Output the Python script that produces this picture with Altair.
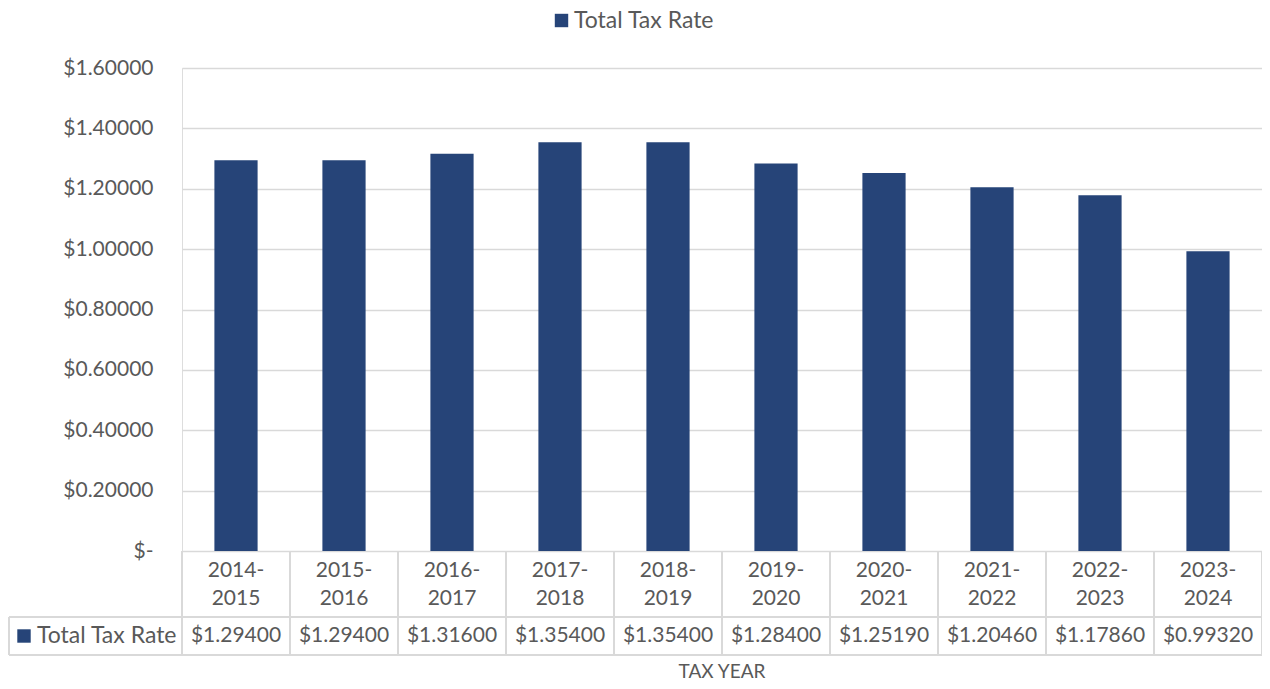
import altair as alt
import pandas as pd

years = ["2014-2015", "2015-2016", "2016-2017", "2017-2018", "2018-2019",
         "2019-2020", "2020-2021", "2021-2022", "2022-2023", "2023-2024"]
rates = [1.29400, 1.29400, 1.31600, 1.35400, 1.35400,
         1.28400, 1.25190, 1.20460, 1.17860, 0.99320]
series_name = "Total Tax Rate"
axis_title = "TAX YEAR"
y_ticks = [0.0, 0.2, 0.4, 0.6, 0.8, 1.0, 1.2, 1.4, 1.6]

df = pd.DataFrame({"year": years, "rate": rates, "series": series_name})

FONT = "Lato"
TXT = "#595959"
GRID = "#d9d9d9"
BAR = "#264478"
FS = 21

W, H = 1080, 483        # plot area (bars region)
HEAD_Y = 503            # centre of first header line
ROW1 = 549              # y of line between header row and value row
ROW2 = 587              # bottom of table
VAL_Y = 568             # centre of value row
LEFT = -173             # left edge of table

x_enc = alt.X("year:N", sort=years, axis=None,
              scale=alt.Scale(paddingInner=0, paddingOuter=0))

bars = alt.Chart(df).mark_bar(width={"band": 0.4}).encode(
    x=x_enc,
    y=alt.Y("rate:Q", scale=alt.Scale(domain=[0, 1.6], nice=False),
            axis=alt.Axis(title=None, values=y_ticks, ticks=False, domain=False,
                          gridColor=GRID, gridWidth=1.6, labelFontSize=FS,
                          labelColor=TXT, labelFont=FONT, labelPadding=29,
                          labelExpr="datum.value == 0 ? '$-\u2003' : '$' + format(datum.value, '.5f')")),
    color=alt.Color("series:N",
                    scale=alt.Scale(domain=[series_name], range=[BAR]),
                    legend=alt.Legend(orient="none", legendX=368, legendY=-59, title=None,
                                      symbolType="square", symbolSize=180,
                                      symbolStrokeWidth=0, labelFontSize=23,
                                      labelColor=TXT, labelFont=FONT, padding=0,
                                      labelOffset=1, labelLimit=0)),
)

header_text = alt.Chart(df).transform_calculate(
    lbl="slice(datum.year, 0, 5) + '\\n' + slice(datum.year, 5)"
).mark_text(baseline="middle", fontSize=FS, color=TXT, font=FONT,
            lineBreak="\n", lineHeight=28).encode(
    x=alt.X("year:N", sort=years, axis=None),
    y=alt.value(HEAD_Y),
    text="lbl:N",
)

values_text = alt.Chart(df).mark_text(baseline="middle", fontSize=FS, color=TXT,
                                       font=FONT).encode(
    x=alt.X("year:N", sort=years, axis=None),
    y=alt.value(VAL_Y),
    text=alt.Text("rate:Q", format="$.5f"),
)

vlines = alt.Chart(df).mark_rule(color=GRID, strokeWidth=2).encode(
    x=alt.X("year:N", sort=years, bandPosition=0, axis=None),
    y=alt.value(H), y2=alt.value(ROW2),
)
vlast = alt.Chart(df.tail(1)).mark_rule(color=GRID, strokeWidth=2).encode(
    x=alt.X("year:N", sort=years, bandPosition=1, axis=None),
    y=alt.value(H), y2=alt.value(ROW2),
)

one = df.head(1).assign(title=axis_title)
hline1 = alt.Chart(one).mark_rule(color=GRID, strokeWidth=2).encode(
    x=alt.value(LEFT), x2=alt.value(W), y=alt.value(ROW1))
hline2 = alt.Chart(one).mark_rule(color=GRID, strokeWidth=2).encode(
    x=alt.value(LEFT), x2=alt.value(W), y=alt.value(ROW2))
vleft = alt.Chart(one).mark_rule(color=GRID, strokeWidth=2).encode(
    x=alt.value(LEFT), y=alt.value(ROW1), y2=alt.value(ROW2))

key_square = alt.Chart(one).mark_square(size=180, color=BAR, opacity=1).encode(
    x=alt.value(-158), y=alt.value(VAL_Y))
key_text = alt.Chart(one).mark_text(align="left", baseline="middle", fontSize=23,
                                    color=TXT, font=FONT).encode(
    x=alt.value(-145), y=alt.value(VAL_Y), text="series:N")

title_text = alt.Chart(one).mark_text(align="center", baseline="alphabetic",
                                      fontSize=19, color=TXT, font=FONT).encode(
    x=alt.value(W / 2), y=alt.value(610), text="title:N")

chart = alt.layer(
    bars, vlines, vlast, hline1, hline2, vleft, header_text, values_text,
    key_square, key_text, title_text
).properties(
    width=W, height=H,
    autosize=alt.AutoSizeParams(type="none"),
    padding={"left": 174, "top": 60, "right": 0, "bottom": 130},
).configure_view(stroke=None).configure(font=FONT)

chart.save("out.html", embed_options={"renderer": "svg", "actions": False})
